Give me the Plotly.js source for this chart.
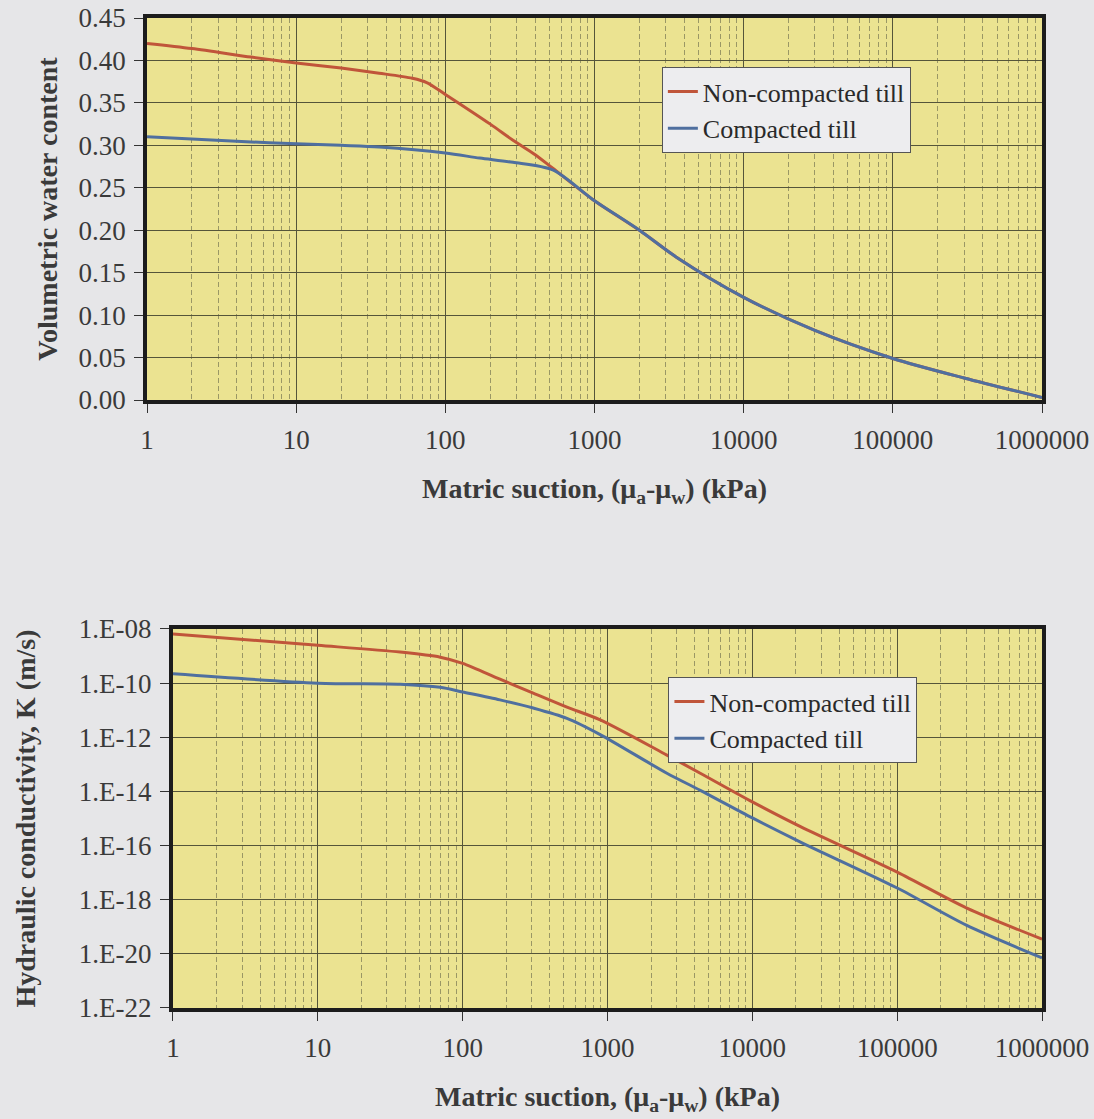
<!DOCTYPE html>
<html>
<head>
<meta charset="utf-8">
<script src="https://cdn.plot.ly/plotly-3.0.1.min.js"></script>
<style>
html,body{margin:0;padding:0;background:#e6e6e8;}
#chart{width:1094px;height:1119px;}
</style>
</head>
<body>
<div id="chart"></div>
<script>
// ---- Data: soil-water characteristic curves (top) ----
const suctionNonCompactedSWCC = [1, 2, 5, 10, 20, 36, 60, 75, 100, 200, 284, 400, 525, 977, 2000, 3560, 10000, 30000, 100000, 300000, 1000000];
const thetaNonCompacted       = [0.420, 0.414, 0.404, 0.397, 0.391, 0.385, 0.379, 0.374, 0.360, 0.325, 0.306, 0.289, 0.273, 0.236, 0.200, 0.168, 0.121, 0.082, 0.049, 0.026, 0.003];
const suctionCompactedSWCC    = [1, 5, 10, 20, 36, 100, 170, 284, 525, 977, 2000, 3560, 10000, 30000, 100000, 300000, 1000000];
const thetaCompacted          = [0.310, 0.304, 0.302, 0.300, 0.298, 0.291, 0.285, 0.280, 0.271, 0.236, 0.200, 0.168, 0.121, 0.082, 0.049, 0.026, 0.003];

// ---- Data: hydraulic conductivity functions (bottom) ----
const suctionK        = [1, 10, 37, 70, 100, 181, 307, 525, 890, 2570, 4370, 10000, 21500, 100000, 300000, 1000000];
const kNonCompacted   = [6.5e-9, 2.5e-9, 1.4e-9, 9.1e-10, 5.4e-10, 1.4e-10, 4.3e-11, 1.3e-11, 4.4e-12, 2.2e-13, 4.7e-14, 4.1e-15, 5.0e-16, 1.05e-17, 5.0e-19, 3.5e-20];
const kCompacted      = [2.2e-10, 1.0e-10, 9.1e-11, 7.0e-11, 4.7e-11, 2.4e-11, 1.2e-11, 5.0e-12, 1.26e-12, 4.7e-14, 1.1e-14, 1.05e-15, 1.35e-16, 2.7e-18, 1.15e-19, 7.1e-21];

// ---- Tick labels ----
const xTickVals  = [1, 10, 100, 1000, 10000, 100000, 1000000];
const xTickText  = ["1", "10", "100", "1000", "10000", "100000", "1000000"];
const kTickVals  = [1e-22, 1e-20, 1e-18, 1e-16, 1e-14, 1e-12, 1e-10, 1e-8];
const kTickText  = ["1.E-22", "1.E-20", "1.E-18", "1.E-16", "1.E-14", "1.E-12", "1.E-10", "1.E-08"];

const seriesNames = ["Non-compacted till", "Compacted till"];
const RED = "#c0553a", BLUE = "#4f6f9f";
const FONT = "'Liberation Serif', 'Times New Roman', serif";
const TXT = "#3a3a3a";

function lineOf(color) { return {color:color, width:3, shape:'spline', smoothing:0.8}; }

const traces = [
  {x: suctionNonCompactedSWCC, y: thetaNonCompacted, name: seriesNames[0], xaxis:'x', yaxis:'y', legend:'legend', mode:'lines', line:lineOf(RED)},
  {x: suctionCompactedSWCC, y: thetaCompacted, name: seriesNames[1], xaxis:'x', yaxis:'y', legend:'legend', mode:'lines', line:lineOf(BLUE)},
  {x: suctionK, y: kNonCompacted, name: seriesNames[0], xaxis:'x2', yaxis:'y2', legend:'legend2', mode:'lines', line:lineOf(RED)},
  {x: suctionK, y: kCompacted, name: seriesNames[1], xaxis:'x2', yaxis:'y2', legend:'legend2', mode:'lines', line:lineOf(BLUE)}
];

function xAxis(domain, anchor) {
  return {
    type:'log', domain: domain, anchor: anchor, range:[0, 6],
    tickvals: xTickVals, ticktext: xTickText,
    ticks:'outside', ticklen:9, tickwidth:1, tickcolor:'#333',
    ticklabelstandoff: 4,
    tickfont:{family:FONT, size:27, color:TXT},
    showline:true, linecolor:'#1c1c1c', linewidth:4, mirror:true,
    showgrid:true, gridcolor:'#55553a', gridwidth:1,
    minor:{dtick:'D1', showgrid:true, gridcolor:'#9a9765', gridwidth:1, griddash:'5px,3px', ticks:''},
    zeroline:false,
    title:{text:'Matric suction, (μ<sub>a</sub>-μ<sub>w</sub>) (kPa)', font:{family:FONT, size:28, color:TXT, weight:'bold'}, standoff:25}
  };
}

function yCommon() {
  return {
    ticks:'outside', ticklen:9, tickwidth:1, tickcolor:'#333', ticklabelstandoff: 3,
    tickfont:{family:FONT, size:27, color:TXT},
    showline:true, linecolor:'#1c1c1c', linewidth:4, mirror:true,
    showgrid:true, gridcolor:'#55553a', gridwidth:1, zeroline:false
  };
}

const layout = {
  width:1094, height:1119,
  margin:{l:0, r:0, t:0, b:0},
  paper_bgcolor:'#e6e6e8', plot_bgcolor:'#ebe391',
  showlegend:true,
  xaxis: xAxis([0.1344, 0.9525], 'y'),
  yaxis: Object.assign(yCommon(), {
    domain:[0.6425, 0.9839], anchor:'x', range:[0, 0.45], dtick:0.05, tickformat:'.2f',
    title:{text:'Volumetric water content', font:{family:FONT, size:28, color:TXT, weight:'bold'}, standoff:14}
  }),
  xaxis2: xAxis([0.1581, 0.9525], 'y2'),
  yaxis2: Object.assign(yCommon(), {
    domain:[0.0992, 0.4379], anchor:'x2', type:'log', range:[-22, -8],
    tickvals: kTickVals, ticktext: kTickText,
    title:{text:'Hydraulic conductivity, K (m/s)', font:{family:FONT, size:28, color:TXT, weight:'bold'}, standoff:36}
  }),
  legend: {x:0.605, y:0.940, xanchor:'left', yanchor:'top', bgcolor:'#ededef', bordercolor:'#555', borderwidth:1,
           font:{family:FONT, size:26, color:'#2a2a2a'}},
  legend2: {x:0.611, y:0.395, xanchor:'left', yanchor:'top', bgcolor:'#ededef', bordercolor:'#555', borderwidth:1,
           font:{family:FONT, size:26, color:'#2a2a2a'}}
};

Plotly.newPlot('chart', traces, layout, {displayModeBar:false, staticPlot:true});
</script>
</body>
</html>
